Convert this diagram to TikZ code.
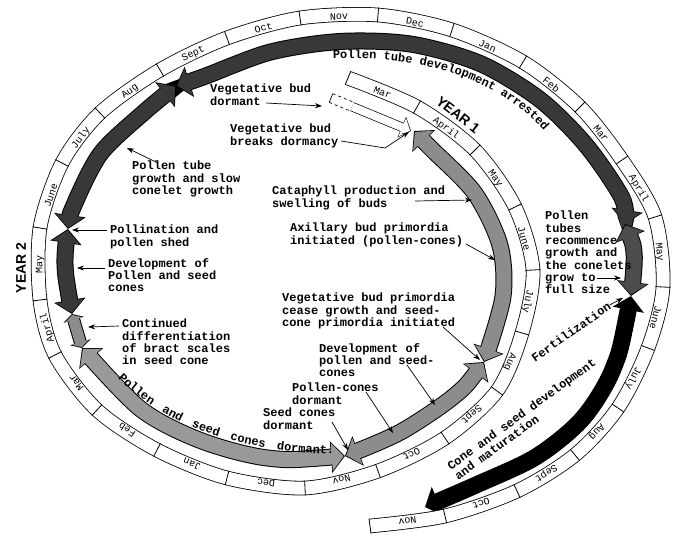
\documentclass[tikz,border=0pt]{standalone}
\usepackage{fontspec}
\setmonofont{Liberation Mono}
\newfontfamily\yearfont{Liberation Sans}
\usetikzlibrary{arrows.meta,calc,decorations.text}

\tikzset{
  note/.style={font=\ttfamily\bfseries\fontsize{12}{12.3}\selectfont, align=left, anchor=north west, inner sep=0pt},
  month/.style={font=\ttfamily\fontsize{10}{10}\selectfont, inner sep=0pt, sloped, allow upside down},
  lead/.style={->, line width=0.7pt},
  band/.style={line width=0.8pt, double=white, double distance=13pt},
  year label/.style={font=\yearfont\bfseries\fontsize{14}{14}\selectfont, inner sep=0pt},
  stage outer/.style={line width=17pt, black, {Triangle[width=31pt,length=14pt]}-{Triangle[width=31pt,length=14pt]}},
  stage inner/.style={line width=15pt, {Triangle[width=27.5pt,length=12pt]}-{Triangle[width=27.5pt,length=12pt]}, shorten <=1.3pt, shorten >=1.3pt},
}
% one stage of the cycle, a wide arrow along the spiral
\newcommand{\stagearrow}[2]{%
  \draw[stage outer] plot[smooth] coordinates {#2};
  \draw[stage inner, #1] plot[smooth] coordinates {#2};}

\begin{document}
\begin{tikzpicture}[x=1pt, y=-1pt, >={Stealth[length=7pt,width=5pt]}]
\useasboundingbox (0,0) rectangle (675,538);

% month borders along the spiral
\foreach \x/\y [count=\i from 0] in {348/78,417/107,475/150,515/207,533/270,522/333,497/391,445/438,378/471,305/488,227/478,157/450,97/410,55/355,40/300,40/228,62/163,100/113,160/70,227/38,300/18,378/15,452/30,523/62,580/107,622/160,655/217,663/287,648/348,618/408,575/455,517/491,445/516,370/526}
  \coordinate (d\i) at (\x,\y);
% tracks of the stage arrows, inside the band
\foreach \i in {0,...,32} {
  \pgfmathtruncatemacro\k{\i+1}
  \coordinate (t\i) at ($(d\i)!0.5!(d\k)!25pt!-90:(d\k)$);
  \coordinate (v\i) at ($(d\i)!0.5!(d\k)!22pt!-90:(d\k)$);
  \coordinate (u\i) at ($(d\i)!0.5!(d\k)!19pt!-90:(d\k)$);
}

% ends of the stages
\coordinate (j0) at (414,131);
\coordinate (j1) at (484,362);
\coordinate (j2) at (345,456);
\coordinate (j3) at (82,348);
\coordinate (j4) at (72,314);
\coordinate (j5) at (68,229);
\coordinate (j6) at (176,86);
\coordinate (j7) at (625,224);
\coordinate (j8) at (631,296);
\coordinate (j9) at (425,507);

\stagearrow{black!45}{(j0) (t1) (t2) (t3) (t4) (j1)}
\stagearrow{black!45}{(j1) (t6) (t7) (j2)}
\stagearrow{black!40}{(j2) (t9) (t10) (t11) (j3)}
\draw[line width=13pt, {Triangle[width=21pt,length=6pt]}-{Triangle[width=21pt,length=6pt]}] (j3) -- (j4);
\draw[line width=11pt, black!45, {Triangle[width=18pt,length=5pt]}-{Triangle[width=18pt,length=5pt]}, shorten <=1pt, shorten >=1pt] (j3) -- (j4);
\stagearrow{black!78}{(j4) (t14) (j5)}
\stagearrow{black!78}{(j5) (t15) (t16) (t17) (j6)}
\stagearrow{black!78}{(j6) (t18) (t19) (t20) (v21) (u22) (u23) (u24) (u25) (j7)}
\stagearrow{black!70}{(j7) (t26) (j8)}
\stagearrow{black}{(j8) (v28) (u29) (u30) (u31) (j9)}

% the dormant bud
\coordinate (vb0) at (331,98);
\coordinate (vb1) at (352,106.6);
\coordinate (vb2) at (411,131);
\draw[dashed, line width=0.7pt] ($(vb0)!4.7pt!90:(vb1)$) -- ($(vb1)!4.7pt!-90:(vb0)$);
\draw[dashed, line width=0.7pt] ($(vb0)!4.7pt!-90:(vb1)$) -- ($(vb1)!4.7pt!90:(vb0)$);
\draw[line width=0.7pt] ($(vb0)!4.7pt!90:(vb1)$) -- ($(vb0)!4.7pt!-90:(vb1)$);
\draw[line width=9.4pt, -{Triangle[width=22pt,length=10pt]}] (vb1) -- (vb2);
\draw[line width=8pt, white, -{Triangle[width=19.5pt,length=8.5pt]}, shorten >=1pt] (vb1) -- (vb2);

% the band of months
\draw[band] plot[smooth] coordinates {(d0) (d1) (d2) (d3) (d4) (d5) (d6) (d7) (d8) (d9) (d10) (d11) (d12) (d13) (d14) (d15) (d16) (d17) (d18) (d19) (d20) (d21) (d22) (d23) (d24) (d25) (d26) (d27) (d28) (d29) (d30) (d31) (d32) (d33)};
\foreach \i in {0,...,33} {
  \pgfmathtruncatemacro\h{max(\i-1,0)}
  \pgfmathtruncatemacro\k{min(\i+1,33)}
  \draw[line width=0.8pt] let \p1=($(d\k)-(d\h)$), \n1={atan2(\y1,\x1)} in
    ($(d\i)+(\n1+90:7.4pt)$) -- ($(d\i)+(\n1-90:7.4pt)$);
}
\foreach \m [count=\i from 0] in {Mar,April,May,June,July,Aug,Sept,Oct,Nov,Dec,Jan,Feb,Mar,April,May,June,July,Aug,Sept,Oct,Nov,Dec,Jan,Feb,Mar,April,May,June,July,Aug,Sept,Oct,Nov} {
  \pgfmathtruncatemacro\k{\i+1}
  \path (d\i) -- node[month] {\m} (d\k);
}

\node[year label, rotate=-38] (y1) at (458,115) {YEAR 1};
\node[year label, rotate=90] (y2) at (21,268) {YEAR 2};

% curved labels
\path[decorate, decoration={text along path, text align=left,
  text={|\ttfamily\bfseries\fontsize{12}{12}\selectfont|Pollen tube development arrested}}]
  (333,59) .. controls (430,55) and (510,82) .. (556,146);
\path[decorate, decoration={text along path, text align=fit to path stretching spaces,
  text={|\ttfamily\bfseries\fontsize{12}{12}\selectfont|Pollen and seed cones dormant.}}]
  (118,378) .. controls (160,420) and (230,452) .. (334,454);

% notes
\node[note] (vbd) at (210,84) {Vegetative bud\\dormant};
\node[note] (vbb) at (230,124) {Vegetative bud\\breaks dormancy};
\node[note] (ptg) at (132,161) {Pollen tube\\growth and slow\\conelet growth};
\node[note] (pol) at (110,225) {Pollination and\\pollen shed};
\node[note] (dev2) at (108,258) {Development of\\Pollen and seed\\cones};
\node[note] (cdf) at (122,319) {Continued\\differentiation\\of bract scales\\in seed cone};
\node[note] (cat) at (272,186) {Cataphyll production and\\swelling of buds};
\node[note] (axb) at (290,223) {Axillary bud primordia\\initiated (pollen-cones)};
\node[note] (vbp) at (282,293) {Vegetative bud primordia\\cease growth and seed-\\cone primordia initiated};
\node[note] (dev1) at (319,343) {Development of\\pollen and seed-\\cones};
\node[note] (pcd) at (292,383) {Pollen-cones\\dormant};
\node[note] (scd) at (263,408) {Seed cones\\dormant};
\node[note] (ptr) at (545,211) {Pollen\\tubes\\recommence\\growth and\\the conelets\\grow to\\full size};
\node[note, anchor=center, rotate=35] (fert) at (571,332) {Fertilization};
\node[note, anchor=center, rotate=36] (cone) at (525,419) {Cone and seed development\\and maturation};

% leaders
\coordinate (e1) at (322,106);
\coordinate (k2) at (385,148);
\coordinate (e2) at (409,132);
\coordinate (e3) at (127,148);
\coordinate (e4) at (72,230);
\coordinate (e5) at (77,268);
\coordinate (e6) at (88,327);
\coordinate (e7) at (472,200);
\coordinate (e8) at (495,260);
\coordinate (e9) at (480,360);
\coordinate (e10) at (435,405);
\coordinate (e11) at (393,433);
\coordinate (e12) at (348,450);
\coordinate (e13) at (621,278);
\coordinate (e14) at (623,298);
\draw[lead] (vbd.north west) ++(56,19) -- (e1);
\draw[lead] (vbb.north west) ++(111,17) -- (k2) -- (e2);
\draw[lead] (ptg.north west) ++(26,2) -- (e3);
\draw[lead] (pol.north west) ++(-3,5) -- (e4);
\draw[lead] (dev2.north west) ++(-3,10) -- (e5);
\draw[lead] (cdf.north west) ++(-3,7) -- (e6);
\draw[lead] (cat.north west) ++(143,15) -- (e7);
\draw[lead] (axb.north west) ++(176,21) -- (e8);
\draw[lead] (vbp.north west) ++(161,34) -- (e9);
\draw[lead] (dev1.north west) ++(88,22) -- (e10);
\draw[lead] (pcd.north west) ++(74,9) -- (e11);
\draw[lead] (scd.north west) ++(69,14) -- (e12);
\draw[lead] (ptr.north west) ++(52,67) -- (e13);
\draw[lead] (fert.east) -- (e14);
\end{tikzpicture}
\end{document}
